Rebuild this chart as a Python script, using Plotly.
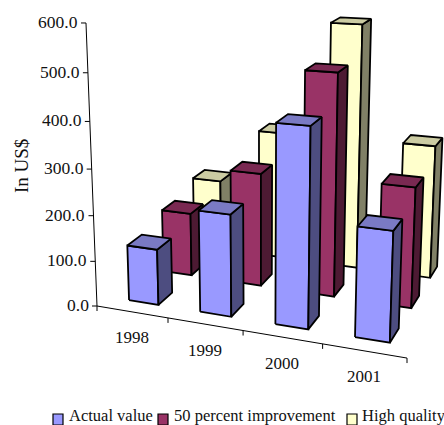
import plotly.graph_objects as go

# Chart values
years = ["1998", "1999", "2000", "2001"]
actual_value = [123, 220, 417, 228]
improvement_50 = [144, 253, 483, 260]
high_quality = [166, 295, 550, 298]
series_names = ["Actual value", "50 percent improvement", "High quality"]
value_ticks = [0, 100, 200, 300, 400, 500, 600]

series_values = [actual_value, improvement_50, high_quality]
# front face, side face, top face
series_colors = [
    ("#9999FF", "#4D4D80", "#7A7AC4"),
    ("#993366", "#4D1A33", "#7A2952"),
    ("#FFFFCC", "#808066", "#CCCCA3"),
]

SERIF = "Liberation Serif"
INK = "#111111"


def project(u, v, val):
    """Perspective projection of (category, depth, value) onto the page."""
    h = val / 100.0
    w = 1 - 0.0272 * u + 0.061 * v - 0.0105 * h
    x = 97 + (69.07 * u + 38.8 * v - 1.72 * h) / w
    y = 306 + (11.6 * u - 31.5 * v - 44.2 * h) / w
    return x, y


def face(points, fill):
    pts = [project(*p) for p in points]
    pts.append(pts[0])
    return go.Scatter(
        x=[p[0] for p in pts], y=[p[1] for p in pts],
        mode="lines", fill="toself", fillcolor=fill,
        line=dict(color="black", width=1.8),
        hoverinfo="skip", showlegend=False,
    )


def line(points, width=1.0):
    pts = [project(*p) for p in points]
    return go.Scatter(
        x=[p[0] for p in pts], y=[p[1] for p in pts],
        mode="lines", line=dict(color="black", width=width),
        hoverinfo="skip", showlegend=False,
    )


fig = go.Figure()

# Axes
fig.add_trace(line([(0, 0, 0), (0, 0, 600)]))
fig.add_trace(line([(0, 0, 0), (4, 0, 0)]))
annotations = []
for val in value_ticks:
    x, y = project(0, 0, val)
    fig.add_shape(type="line", x0=x - 5, x1=x, y0=y, y1=y, line=dict(color="black", width=1))
    annotations.append(dict(x=x - 6, y=y - 1, text=f"{val:.1f}", xanchor="right", yanchor="middle",
                            showarrow=False, font=dict(family=SERIF, size=17.5, color=INK)))
for i in range(5):
    x, y = project(i, 0, 0)
    fig.add_shape(type="line", x0=x, x1=x, y0=y, y1=y + 5, line=dict(color="black", width=1))
for i, year in enumerate(years):
    x, y = project(i + 0.5, 0, 0)
    annotations.append(dict(x=x, y=y + 26, text=year, xanchor="center", yanchor="middle",
                            showarrow=False, font=dict(family=SERIF, size=17, color=INK)))
annotations.append(dict(x=21, y=166, text="In US$", textangle=-90, xanchor="center", yanchor="middle",
                        showarrow=False, font=dict(family=SERIF, size=19, color=INK)))

# Bars, back series first so nearer ones overlap them
U0, U1 = 0.30, 0.72
V0, V1 = 0.30, 0.70
for s in (2, 1, 0):
    front, side, top = series_colors[s]
    for i, val in enumerate(series_values[s]):
        a, b = i + U0, i + U1
        c, d = s + V0, s + V1
        fig.add_trace(face([(a, c, 0), (b, c, 0), (b, c, val), (a, c, val)], front))
        fig.add_trace(face([(b, c, 0), (b, d, 0), (b, d, val), (b, c, val)], side))
        fig.add_trace(face([(a, c, val), (b, c, val), (b, d, val), (a, d, val)], top))

# Legend row
legend_swatch_x = [53, 158, 347]
legend_text_x = [67, 172, 360]
for s, name in enumerate(series_names):
    sx = legend_swatch_x[s]
    fig.add_shape(type="rect", x0=sx, x1=sx + 10, y0=414, y1=425,
                  fillcolor=series_colors[s][0], line=dict(color="black", width=1.2))
    annotations.append(dict(x=legend_text_x[s], y=415.5, text=name, xanchor="left", yanchor="middle",
                            showarrow=False, font=dict(family=SERIF, size=16.5, color=INK)))

fig.update_layout(
    width=444, height=425,
    margin=dict(l=0, r=0, t=0, b=0),
    paper_bgcolor="white", plot_bgcolor="white",
    xaxis=dict(range=[0, 444], visible=False, fixedrange=True),
    yaxis=dict(range=[425, 0], visible=False, fixedrange=True),
    annotations=annotations,
    showlegend=False,
)

fig.write_html("out.html", config={"displayModeBar": False})
